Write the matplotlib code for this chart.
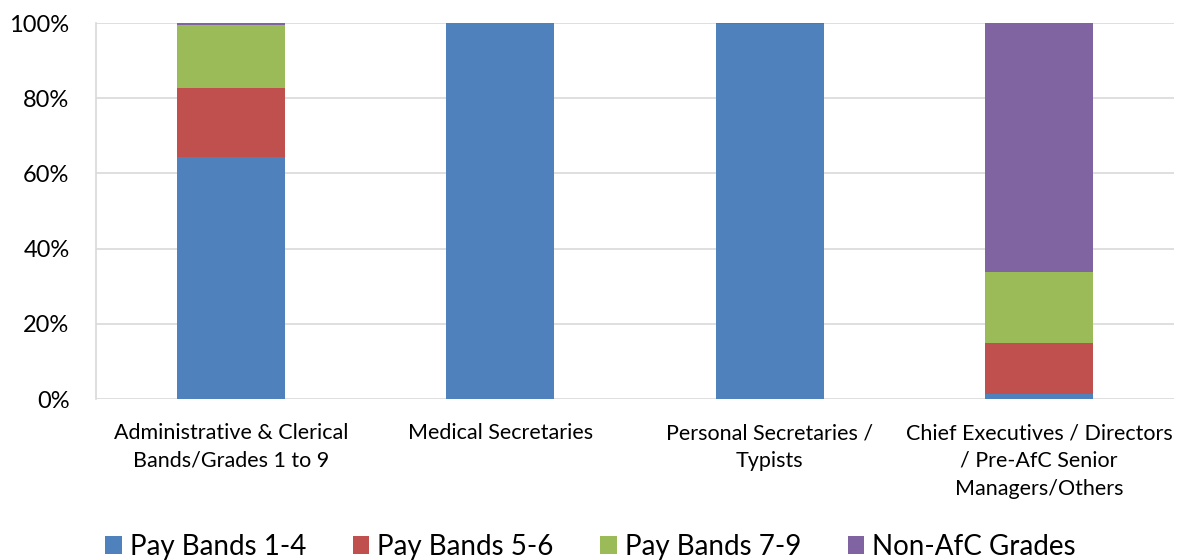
import matplotlib
matplotlib.use("Agg")
import matplotlib.pyplot as plt
import numpy as np

plt.rcParams['font.family'] = ['Lato', 'Open Sans', 'DejaVu Sans']

categories = ["Administrative & Clerical\nBands/Grades 1 to 9",
              "Medical Secretaries",
              "Personal Secretaries /\nTypists",
              "Chief Executives / Directors\n/ Pre-AfC Senior\nManagers/Others"]
series_names = ["Pay Bands 1-4", "Pay Bands 5-6", "Pay Bands 7-9", "Non-AfC Grades"]
pay_1_4 = [64.3, 100.0, 99.7, 1.4]
pay_5_6 = [18.4, 0.0, 0.3, 13.4]
pay_7_9 = [16.8, 0.0, 0.0, 19.1]
non_afc = [0.5, 0.0, 0.0, 66.1]
colors = ["#4F81BD", "#C0504D", "#9BBB59", "#8064A2"]
yticks = [0, 20, 40, 60, 80, 100]
ytick_labels = ["0%", "20%", "40%", "60%", "80%", "100%"]

fig = plt.figure(figsize=(11.81, 5.6), dpi=100)
ax = fig.add_axes([96/1181, 1-399/560, (1174-96)/1181, (399-23)/560])

x = np.arange(len(categories))
bottom = np.zeros(len(categories))
for vals, name, c in zip([pay_1_4, pay_5_6, pay_7_9, non_afc], series_names, colors):
    ax.bar(x, vals, width=0.4, bottom=bottom, color=c, label=name, zorder=3)
    bottom += np.array(vals)

ax.set_xlim(-0.5, len(categories) - 0.5)
ax.set_ylim(0, 100)
ax.set_yticks(yticks)
ax.set_yticklabels(ytick_labels, fontsize=17)
ax.set_xticks(x)
ax.set_xticklabels(categories, fontsize=15.5, linespacing=1.48)
ax.tick_params(axis='both', length=0, colors='#000000')
ax.tick_params(axis='y', pad=19)
ax.tick_params(axis='x', pad=17.5)
ax.grid(axis='y', color='#D9D9D9', linewidth=1.2, zorder=0)
for s in ['top', 'right', 'bottom']:
    ax.spines[s].set_visible(False)
ax.spines['left'].set_color('#D9D9D9')
ax.spines['left'].set_linewidth(1.2)

fig.legend(loc='center', bbox_to_anchor=(0.5, 1-547/560), ncol=4, frameon=False,
           fontsize=20, handlelength=0.6, handleheight=0.6, handletextpad=0.28,
           columnspacing=1.68)

fig.savefig("out.png", dpi=100)
